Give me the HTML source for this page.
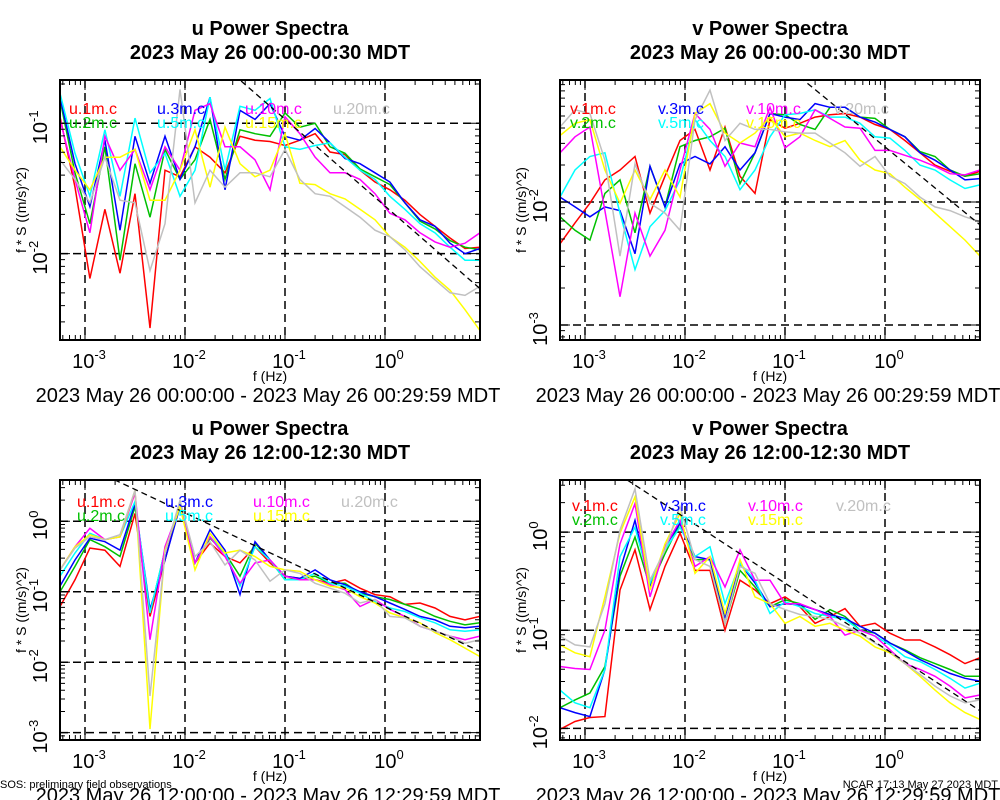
<!DOCTYPE html>
<html><head><meta charset="utf-8"><style>
html,body{margin:0;padding:0;background:#fff;}
svg{display:block;font-family:"Liberation Sans",sans-serif;}
</style></head><body>
<svg id="fig" width="1000" height="800" viewBox="0 0 1000 800" xmlns="http://www.w3.org/2000/svg">
<rect width="1000" height="800" fill="#fff"/>
</svg>
<script>
// frequencies (Hz) shared by all spectra
const freqHz = [0.000562,0.000794,0.00112,0.00158,0.00224,0.00316,0.00447,0.00631,0.00891,0.0126,0.0178,0.0251,0.0355,0.0501,0.0708,0.1,0.141,0.2,0.282,0.398,0.562,0.794,1.12,1.58,2.24,3.16,4.47,6.31,8.91];
const xTickExps = [-3,-2,-1,0];
const seriesLabels = ['1m','2m','3m','5m','10m','15m','20m'];
// values below are log10(f*S) in (m/s)^2
// --- u, 00:00-00:30
const uA_1m  = [-0.95,-1.49,-2.19,-1.66,-2.15,-1.54,-2.57,-1.36,-1.41,-1.18,-1.26,-1.38,-1.10,-1.13,-1.14,-1.17,-1.13,-1.08,-1.22,-1.24,-1.36,-1.45,-1.51,-1.59,-1.70,-1.79,-1.88,-1.96,-1.95];
const uA_2m  = [-0.82,-1.38,-1.77,-1.18,-2.05,-1.31,-1.72,-1.20,-1.43,-1.28,-0.97,-1.43,-1.05,-1.08,-1.10,-0.92,-1.03,-1.00,-1.18,-1.23,-1.35,-1.41,-1.47,-1.61,-1.75,-1.81,-1.90,-1.95,-1.97];
const uA_3m  = [-0.80,-1.31,-1.64,-1.13,-1.82,-1.10,-1.46,-1.10,-1.43,-1.18,-0.80,-1.51,-0.90,-0.97,-0.85,-1.10,-1.13,-1.04,-1.15,-1.27,-1.31,-1.38,-1.45,-1.61,-1.74,-1.79,-1.92,-2.00,-1.96];
const uA_5m  = [-0.77,-1.23,-1.56,-1.05,-1.56,-0.96,-1.38,-1.23,-1.56,-1.36,-0.80,-1.36,-0.87,-0.90,-0.81,-1.18,-1.20,-1.17,-1.15,-1.26,-1.36,-1.43,-1.56,-1.66,-1.77,-1.84,-1.95,-2.05,-2.05];
const uA_10m = [-0.97,-1.43,-1.84,-1.10,-1.36,-1.20,-1.51,-1.18,-1.36,-0.90,-0.85,-1.18,-1.18,-1.28,-1.51,-0.95,-1.08,-1.26,-1.38,-1.38,-1.43,-1.54,-1.69,-1.74,-1.84,-1.91,-1.95,-1.92,-1.84];
const uA_15m = [-1.18,-1.36,-1.51,-1.26,-1.26,-1.20,-1.59,-1.59,-1.36,-1.05,-1.49,-1.03,-1.31,-1.41,-1.36,-1.08,-1.46,-1.47,-1.54,-1.58,-1.66,-1.74,-1.87,-1.95,-2.06,-2.18,-2.28,-2.43,-2.59];
const uA_20m = [-1.28,-1.43,-1.61,-1.26,-1.59,-1.61,-2.13,-1.77,-0.74,-1.61,-1.36,-1.49,-1.38,-1.38,-1.41,-1.20,-1.43,-1.54,-1.56,-1.64,-1.72,-1.82,-1.87,-1.97,-2.10,-2.20,-2.30,-2.32,-2.25];
// --- v, 00:00-00:30
const vA_1m  = [-2.34,-2.17,-2.01,-1.82,-1.74,-1.63,-2.09,-1.79,-1.50,-1.41,-1.74,-1.39,-1.79,-1.93,-1.33,-1.40,-1.36,-1.31,-1.29,-1.28,-1.31,-1.37,-1.41,-1.50,-1.60,-1.70,-1.75,-1.79,-1.75];
const vA_2m  = [-2.12,-2.23,-2.31,-1.93,-1.82,-2.25,-1.71,-2.04,-1.55,-1.50,-1.47,-1.40,-1.85,-1.60,-1.28,-1.29,-1.37,-1.41,-1.23,-1.23,-1.31,-1.32,-1.41,-1.47,-1.59,-1.63,-1.74,-1.79,-1.77];
const vA_3m  = [-1.96,-2.04,-2.12,-2.04,-2.07,-2.42,-1.71,-2.04,-1.69,-1.63,-1.69,-1.55,-1.74,-1.60,-1.28,-1.31,-1.33,-1.20,-1.23,-1.23,-1.31,-1.35,-1.41,-1.47,-1.60,-1.66,-1.74,-1.82,-1.81];
const vA_5m  = [-1.96,-1.74,-1.63,-1.60,-2.09,-2.55,-2.20,-2.07,-1.82,-1.33,-1.50,-1.63,-1.90,-1.74,-1.47,-1.29,-1.28,-1.25,-1.31,-1.31,-1.36,-1.47,-1.48,-1.58,-1.70,-1.74,-1.82,-1.89,-1.86];
const vA_10m = [-1.60,-1.47,-1.39,-2.07,-2.77,-2.09,-2.44,-2.23,-1.74,-1.28,-1.41,-1.71,-1.52,-1.55,-1.23,-1.56,-1.47,-1.25,-1.32,-1.39,-1.40,-1.58,-1.58,-1.62,-1.66,-1.71,-1.77,-1.78,-1.74];
const vA_15m = [-1.46,-1.36,-1.33,-1.74,-2.01,-1.74,-1.98,-1.74,-1.96,-1.28,-1.20,-1.44,-1.52,-1.44,-1.31,-1.47,-1.44,-1.50,-1.55,-1.50,-1.66,-1.74,-1.77,-1.88,-1.98,-2.09,-2.20,-2.31,-2.44];
const vA_20m = [-1.39,-1.25,-1.28,-1.66,-2.44,-1.69,-2.01,-2.09,-2.23,-1.33,-1.09,-1.50,-1.36,-1.41,-1.41,-1.43,-1.44,-1.44,-1.52,-1.60,-1.71,-1.63,-1.79,-1.85,-1.96,-2.04,-2.07,-2.12,-2.16];
// --- u, 12:00-12:30
const uB_1m  = [-1.21,-0.83,-0.38,-0.41,-0.64,0.11,-1.35,-0.55,0.25,-0.59,-0.31,-0.50,-0.59,-0.36,-0.59,-0.78,-0.81,-0.83,-0.88,-0.83,-0.95,-1.04,-1.07,-1.18,-1.16,-1.23,-1.35,-1.40,-1.35];
const uB_2m  = [-1.00,-0.64,-0.26,-0.36,-0.50,0.21,-1.30,-0.41,0.21,-0.59,-0.24,-0.45,-0.78,-0.31,-0.55,-0.83,-0.81,-0.78,-0.88,-0.88,-1.02,-1.07,-1.11,-1.18,-1.25,-1.35,-1.42,-1.47,-1.44];
const uB_3m  = [-0.92,-0.55,-0.24,-0.29,-0.41,0.25,-1.25,-0.55,0.21,-0.59,-0.12,-0.41,-1.04,-0.29,-0.55,-0.78,-0.81,-0.69,-0.83,-0.90,-1.00,-1.07,-1.16,-1.25,-1.35,-1.40,-1.49,-1.51,-1.49];
const uB_5m  = [-0.78,-0.45,-0.17,-0.26,-0.22,0.28,-1.30,-0.41,0.23,-0.59,-0.22,-0.45,-0.92,-0.36,-0.55,-0.83,-0.83,-0.74,-0.88,-0.92,-1.02,-1.14,-1.23,-1.28,-1.37,-1.44,-1.54,-1.56,-1.54];
const uB_10m = [-0.69,-0.36,-0.10,-0.26,-0.22,0.40,-1.68,-0.36,0.21,-0.59,-0.22,-0.50,-0.88,-0.59,-0.55,-0.78,-0.83,-0.83,-0.90,-0.97,-1.21,-1.11,-1.25,-1.35,-1.49,-1.56,-1.63,-1.68,-1.63];
const uB_15m = [-0.69,-0.36,-0.19,-0.26,-0.22,0.44,-2.95,-0.41,0.21,-0.69,-0.17,-0.45,-0.41,-0.50,-0.64,-0.69,-0.71,-0.83,-0.92,-0.95,-1.07,-1.16,-1.30,-1.37,-1.44,-1.58,-1.68,-1.80,-1.92];
const uB_20m = [-0.69,-0.38,-0.22,-0.26,-0.19,0.44,-2.48,-0.45,0.30,-0.50,-0.29,-0.62,-0.41,-0.55,-0.85,-0.69,-0.74,-0.88,-0.95,-1.02,-1.16,-1.11,-1.35,-1.37,-1.49,-1.56,-1.63,-1.73,-1.68];
// --- v, 12:00-12:30
const vB_1m  = [-2.01,-1.93,-1.89,-1.88,-0.59,-0.18,-0.79,-0.35,-0.01,-0.39,-0.39,-1.00,-0.49,-0.59,-0.73,-0.66,-0.76,-0.93,-0.86,-0.78,-0.96,-0.93,-1.03,-1.10,-1.10,-1.17,-1.25,-1.34,-1.28];
const vB_2m  = [-1.79,-1.71,-1.64,-1.37,-0.45,-0.05,-0.56,-0.22,0.09,-0.28,-0.28,-0.93,-0.39,-0.56,-0.76,-0.69,-0.73,-0.89,-0.79,-0.86,-1.00,-1.03,-1.13,-1.20,-1.28,-1.34,-1.40,-1.47,-1.47];
const vB_3m  = [-1.79,-1.84,-1.88,-1.40,-0.39,0.12,-0.56,-0.15,0.09,-0.25,-0.28,-0.86,-0.32,-0.52,-0.76,-0.73,-0.74,-0.79,-0.84,-0.88,-0.96,-1.03,-1.13,-1.21,-1.30,-1.37,-1.44,-1.49,-1.52];
const vB_5m  = [-1.61,-1.74,-1.79,-1.40,-0.25,0.05,-0.52,-0.18,0.05,-0.25,-0.15,-0.73,-0.32,-0.49,-0.83,-0.71,-0.76,-0.83,-0.86,-0.89,-1.00,-1.06,-1.15,-1.27,-1.32,-1.40,-1.49,-1.59,-1.54];
const vB_10m = [-1.37,-1.39,-1.40,-1.00,-0.12,0.29,-0.66,-0.15,0.12,-0.35,-0.25,-0.56,-0.18,-0.49,-0.49,-0.73,-0.73,-0.79,-0.86,-1.05,-1.00,-1.06,-1.20,-1.34,-1.40,-1.47,-1.57,-1.69,-1.66];
const vB_15m = [-1.15,-1.23,-1.27,-0.66,-0.01,0.36,-0.59,-0.12,0.19,-0.42,-0.25,-0.83,-0.28,-0.66,-0.73,-0.93,-0.86,-0.96,-0.93,-1.00,-1.06,-1.17,-1.23,-1.34,-1.47,-1.61,-1.74,-1.84,-1.91];
const vB_20m = [-1.06,-1.15,-1.17,-0.73,0.02,0.44,-0.49,-0.18,0.26,-0.28,-0.35,-0.93,-0.35,-0.42,-0.73,-0.79,-0.84,-0.86,-0.89,-0.96,-1.03,-1.13,-1.22,-1.34,-1.45,-1.57,-1.67,-1.74,-1.71];
// reference line (f^-2/3) log10 value at f = 1 Hz, per panel
const refAtOneHz = [-1.635,-1.552,-1.214,-1.187];

const colors = ['#ff0000','#00c000','#0000ff','#00ffff','#ff00ff','#ffff00','#c0c0c0'];
const panels = [
  {comp:'u',key:'u-early',x0:60,x1:480,y0:80,y1:340,yMin:-2.662,yMax:-0.668,yTicks:[-2,-1],series:[uA_1m,uA_2m,uA_3m,uA_5m,uA_10m,uA_15m,uA_20m],
   t1:'u Power Spectra',t2:'2023 May 26 00:00-00:30 MDT',range:'2023 May 26 00:00:00 - 2023 May 26 00:29:59 MDT',legX:69,legY:114},
  {comp:'v',key:'v-early',x0:560,x1:980,y0:80,y1:340,yMin:-3.122,yMax:-1.008,yTicks:[-3,-2],series:[vA_1m,vA_2m,vA_3m,vA_5m,vA_10m,vA_15m,vA_20m],
   t1:'v Power Spectra',t2:'2023 May 26 00:00-00:30 MDT',range:'2023 May 26 00:00:00 - 2023 May 26 00:29:59 MDT',legX:570,legY:114},
  {comp:'u',key:'u-noon',x0:60,x1:480,y0:480,y1:740,yMin:-3.104,yMax:0.586,yTicks:[-3,-2,-1,0],series:[uB_1m,uB_2m,uB_3m,uB_5m,uB_10m,uB_15m,uB_20m],
   t1:'u Power Spectra',t2:'2023 May 26 12:00-12:30 MDT',range:'2023 May 26 12:00:00 - 2023 May 26 12:29:59 MDT',legX:77,legY:507},
  {comp:'v',key:'v-noon',x0:560,x1:980,y0:480,y1:740,yMin:-2.119,yMax:0.531,yTicks:[-2,-1,0],series:[vB_1m,vB_2m,vB_3m,vB_5m,vB_10m,vB_15m,vB_20m],
   t1:'v Power Spectra',t2:'2023 May 26 12:00-12:30 MDT',range:'2023 May 26 12:00:00 - 2023 May 26 12:29:59 MDT',legX:572,legY:511}
];
const lfMin = -3.25, lfMax = 0.95;
const NS = 'http://www.w3.org/2000/svg';
const svg = document.getElementById('fig');
function mk(tag, attrs, parent){
  const e = document.createElementNS(NS, tag);
  for (const k in attrs) e.setAttribute(k, attrs[k]);
  (parent||svg).appendChild(e);
  return e;
}
function powText(parent, x, y, exp, rotate, name){
  const t = mk('text', {x:x, y:y, 'font-size':20, 'text-anchor':'middle', fill:'#000'}, parent);
  if (rotate) t.setAttribute('transform','rotate(-90 '+x+' '+y+')');
  
  
  const a = document.createElementNS(NS,'tspan'); a.textContent='10'; t.appendChild(a);
  const b = document.createElementNS(NS,'tspan'); b.setAttribute('dy','-9'); b.setAttribute('font-size','13'); b.textContent=String(exp); t.appendChild(b);
  return t;
}
panels.forEach((p, pi) => {
  const g = mk('g', {});
  
  
  const xs = lf => p.x0 + (lf - lfMin) / (lfMax - lfMin) * (p.x1 - p.x0);
  const ys = e => p.y1 - (e - p.yMin) / (p.yMax - p.yMin) * (p.y1 - p.y0);
  const cx = (p.x0 + p.x1) / 2;
  // titles
  const t1 = mk('text', {x:cx, y:p.y0-45, 'font-size':20, 'font-weight':'bold', 'text-anchor':'middle'}, g);
  t1.textContent = p.t1;
  
  
  const t2 = mk('text', {x:cx, y:p.y0-21, 'font-size':20, 'font-weight':'bold', 'text-anchor':'middle'}, g);
  t2.textContent = p.t2;
  
  
  // clip
  const cid = 'clip' + pi;
  const cp = mk('clipPath', {id:cid}, g);
  mk('rect', {x:p.x0, y:p.y0, width:p.x1-p.x0, height:p.y1-p.y0}, cp);
  // grid
  xTickExps.forEach(k => {
    const gl = mk('line', {x1:xs(k), x2:xs(k), y1:p.y0, y2:p.y1, stroke:'#000', 'stroke-width':1.5, 'stroke-dasharray':'8,5'}, g);
    
    
  });
  p.yTicks.forEach(k => {
    const gl = mk('line', {x1:p.x0, x2:p.x1, y1:ys(k), y2:ys(k), stroke:'#000', 'stroke-width':1.5, 'stroke-dasharray':'8,5'}, g);
    
    
  });
  // series
  p.series.forEach((vals, si) => {
    const pts = vals.map((v, i) => xs(Math.log10(freqHz[i])).toFixed(1) + ',' + ys(v).toFixed(1)).join(' ');
    const pl = mk('polyline', {points:pts, fill:'none', stroke:colors[si], 'stroke-width':1.5, 'stroke-linejoin':'miter', 'clip-path':'url(#'+cid+')'}, g);
    
    
  });
  // reference line
  const a = refAtOneHz[pi];
  const r = mk('line', {x1:xs(lfMin), y1:ys(a - 2/3*lfMin), x2:xs(lfMax), y2:ys(a - 2/3*lfMax), stroke:'#000', 'stroke-width':1.3, 'stroke-dasharray':'6,4', 'clip-path':'url(#'+cid+')'}, g);
  
  
  // frame
  const fr = mk('rect', {x:p.x0, y:p.y0, width:p.x1-p.x0, height:p.y1-p.y0, fill:'none', stroke:'#000', 'stroke-width':2}, g);
  
  
  // ticks
  let d = '';
  for (let k = -4; k <= 1; k++) for (let m = 1; m <= 9; m++) {
    const lf = k + Math.log10(m);
    if (lf < lfMin || lf > lfMax) continue;
    const L = m === 1 ? 10 : 5, x = xs(lf);
    d += 'M'+x+' '+p.y1+'v'+(-L)+'M'+x+' '+p.y0+'v'+L;
  }
  for (let k = -4; k <= 1; k++) for (let m = 1; m <= 9; m++) {
    const e = k + Math.log10(m);
    if (e < p.yMin || e > p.yMax) continue;
    const L = m === 1 ? 10 : 5, y = ys(e);
    d += 'M'+p.x0+' '+y+'h'+L+'M'+p.x1+' '+y+'h'+(-L);
  }
  const tk = mk('path', {d:d, stroke:'#000', 'stroke-width':1, fill:'none'}, g);
  
  
  // tick labels
  xTickExps.forEach(k => powText(g, xs(k)+4, p.y1+28, k, false, 'x-tick-label'));
  p.yTicks.forEach(k => powText(g, p.x0-13, ys(k)+4, k, true, 'y-tick-label'));
  // axis titles
  const xt = mk('text', {x:(p.x0+p.x1)/2, y:p.y1+41, 'font-size':14, 'text-anchor':'middle'}, g);
  xt.textContent = 'f (Hz)';
  
  
  const yx = p.x0-34, yy = (p.y0+p.y1)/2;
  const yt = mk('text', {x:yx, y:yy, 'font-size':14, 'text-anchor':'middle', transform:'rotate(-90 '+yx+' '+yy+')'}, g);
  yt.textContent = 'f * S ((m/s)^2)';
  
  
  const rt = mk('text', {x:p.x0+208, y:p.y1+62, 'font-size':20, 'text-anchor':'middle'}, g);
  rt.textContent = p.range;
  
  
  // legend
  seriesLabels.forEach((s, si) => {
    const order = [[0,0],[0,1],[1,0],[1,1],[2,0],[2,1],[3,0]][si];
    const lt = mk('text', {x:p.legX + order[0]*88, y:p.legY + order[1]*14, 'font-size':16, fill:colors[si]}, g);
    lt.textContent = p.comp + '.' + s + '.c';
    
    
  });
});
const f1 = mk('text', {x:0, y:788, 'font-size':11});
f1.textContent = 'SOS: preliminary field observations';


const f2 = mk('text', {x:998, y:788, 'font-size':11, 'text-anchor':'end'});
f2.textContent = 'NCAR 17:13 May 27 2023 MDT';


</script>
</body></html>
